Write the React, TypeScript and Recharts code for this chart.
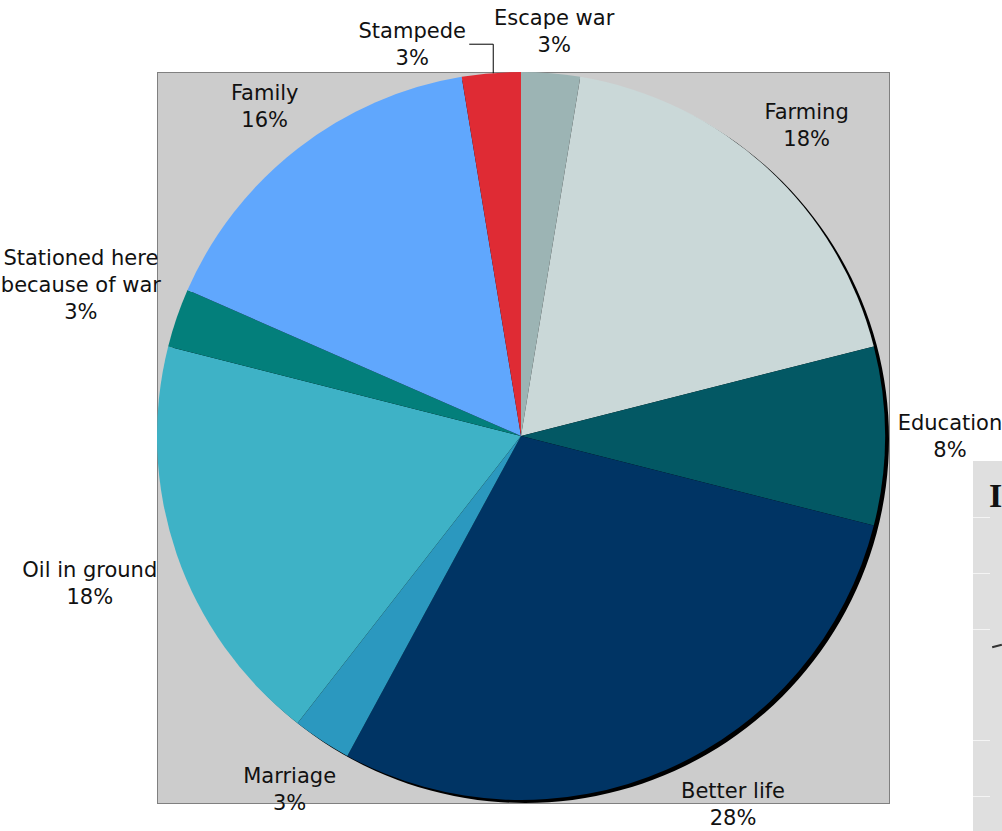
import React from 'react';
import { PieChart, Pie, Cell } from 'recharts';

// Reasons for coming, clockwise from 12 o'clock
const categories = [
    'Escape war',
    'Farming',
    'Education',
    'Better life',
    'Marriage',
    'Oil in ground',
    'Stationed here because of war',
    'Family',
    'Stampede',
];
// slice sizes as measured on the picture (%)
const shares = [2.6, 18.4, 7.9, 28.9, 2.6, 18.4, 2.6, 15.8, 2.6];
// percentages as printed on the labels
const shareLabels = ['3%', '18%', '8%', '28%', '3%', '18%', '3%', '16%', '3%'];
const colors = ['#9cb4b4', '#cad8d8', '#035864', '#003464', '#2b98bf', '#3eb2c6', '#037f7b', '#60a7fd', '#df2b34'];

const chartData = categories.map((name, i) => ({ name, value: shares[i], pct: shareLabels[i] }));
const shadowData = [{ name: 'shadow', value: 1 }];

const W = 1002;
const H = 831;
const RADIAN = Math.PI / 180;
const FONT = 21;
const LINE = 27;

// break long names into two lines at the space nearest the middle
const wrapName = (name: string): string[] => {
    if (name.length <= 14) return [name];
    let best = -1;
    for (let i = 0; i < name.length; i++) {
        if (name[i] === ' ' && (best < 0 || Math.abs(i - name.length / 2) < Math.abs(best - name.length / 2))) best = i;
    }
    return [name.slice(0, best), name.slice(best + 1)];
};

const renderLabel = (props: any) => {
    const { cx, cy, midAngle, outerRadius, name, payload } = props;
    const lines = [...wrapName(name), payload.pct];
    const cos = Math.cos(-midAngle * RADIAN);
    const sin = Math.sin(-midAngle * RADIAN);
    const halfW = (Math.max(...lines.map((l: string) => l.length)) * FONT * 0.55) / 2;
    const halfH = (lines.length * LINE) / 2;

    let tx: number;
    let ty: number;
    let leader: React.ReactNode = null;
    if (name === 'Stampede') {
        // pulled aside with a leader line, like the original
        const px = cx + outerRadius * cos + 2;
        const py = cy + outerRadius * sin;
        tx = px - 81;
        ty = py - 29;
        leader = <polyline points={`${px},${py} ${px},${ty} ${px - 24},${ty}`} fill="none" stroke="#000" strokeWidth={1} />;
    } else {
        const r = outerRadius + 13 + Math.abs(cos) * halfW + Math.abs(sin) * halfH * 0.9;
        tx = cx + r * cos;
        ty = cy + r * sin;
        const maxY = H - halfH;
        if (ty > maxY) {
            // keep the same distance, slide sideways along the circle
            ty = maxY;
            const dy = ty - cy;
            tx = cx + Math.sign(cos) * Math.sqrt(Math.max(0, r * r - dy * dy));
        }
    }
    const top = ty - halfH + LINE / 2;
    return (
        <g>
            {leader}
            <text x={tx} textAnchor="middle" dominantBaseline="central" fill="#111" fontSize={FONT} fontFamily="DejaVu Sans">
                {lines.map((l: string, i: number) => (
                    <tspan key={i} x={tx} y={top + i * LINE}>
                        {l}
                    </tspan>
                ))}
            </text>
        </g>
    );
};

const App = () => {
    return (
        <div style={{ position: 'absolute', left: 0, top: 0, width: W, height: H, background: '#fff', overflow: 'hidden' }}>
            {/* plot area */}
            <div style={{ position: 'absolute', left: 157, top: 72, width: 731, height: 730, background: '#cccccc', border: '1.5px solid #808080' }} />
            {/* edge of the neighbouring slide element */}
            <div style={{ position: 'absolute', left: 973, top: 461, width: 40, height: 380, background: '#dfdfdf' }}>
                {[56, 112, 168, 279, 335].map((t) => (
                    <div key={t} style={{ position: 'absolute', left: 0, top: t, width: 17, height: 1, background: '#f4f4f4' }} />
                ))}
                <div style={{ position: 'absolute', left: 16, top: 18, fontFamily: 'Liberation Serif', fontWeight: 'bold', fontSize: 34, lineHeight: '34px', color: '#111' }}>
                    I
                </div>
                <div style={{ position: 'absolute', left: 19, top: 184, width: 10, height: 2, background: '#333', transform: 'rotate(-15deg)' }} />
            </div>
            <PieChart width={W} height={H} margin={{ top: 0, right: 0, bottom: 0, left: 0 }} style={{ position: 'absolute', left: 0, top: 0 }}>
                <Pie
                    data={shadowData}
                    dataKey="value"
                    cx={525}
                    cy={439}
                    outerRadius={364}
                    startAngle={90}
                    endAngle={-270}
                    fill="#000"
                    stroke="none"
                    isAnimationActive={false}
                />
                <Pie
                    data={chartData}
                    dataKey="value"
                    nameKey="name"
                    cx={521}
                    cy={436}
                    outerRadius={364}
                    startAngle={90}
                    endAngle={-270}
                    stroke="none"
                    label={renderLabel}
                    labelLine={false}
                    isAnimationActive={false}
                >
                    {chartData.map((entry, i) => (
                        <Cell key={entry.name} fill={colors[i]} />
                    ))}
                </Pie>
            </PieChart>
        </div>
    );
};

export default App;
